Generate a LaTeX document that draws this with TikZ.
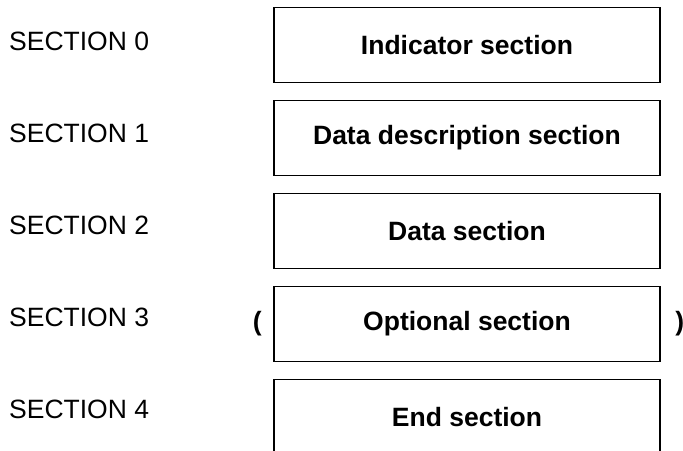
\documentclass[tikz,border=0pt]{standalone}
\usepackage{fontspec}
\setmainfont{Liberation Sans}
\usetikzlibrary{positioning}

\tikzset{
    secbox/.style={draw=black, line width=1.5pt, minimum width=386pt, minimum height=75pt,
        inner sep=0pt, font=\fontsize{26.5}{30}\selectfont\bfseries},
    seclabel/.style={anchor=base west, inner sep=0pt, font=\fontsize{26.5}{30}\selectfont},
    paren/.style={inner sep=0pt, font=\fontsize{26.5}{30}\selectfont\bfseries}
}

\begin{document}
\begin{tikzpicture}[x=1pt, y=1pt, node distance=16.5pt]
            % page size of the reference
            \useasboundingbox (0,0) rectangle (683,-450);
            \clip (0,0) rectangle (683,-450);
            % Section labels on the left
            \foreach \i in {0,...,4} {
                    \node[seclabel] (lab\i) at (9,{-50.5-92*\i}) {SECTION \i};
                }
            % The stacked section boxes
            \node[secbox] (ind) at (467,-45) {Indicator section};
            \node[secbox, below=of ind] (desc) {Data description section};
            \node[secbox, below=of desc] (data) {Data section};
            \node[secbox, below=of data] (opt) {Optional section};
            \node[secbox, below=of opt] (fin) {End section};
            % Brackets round the optional section
            \node[paren] (lpar) at ([xshift=-16pt]opt.west) {(};
            \node[paren] (rpar) at ([xshift=19pt]opt.east) {)};
        \end{tikzpicture}
\end{document}
